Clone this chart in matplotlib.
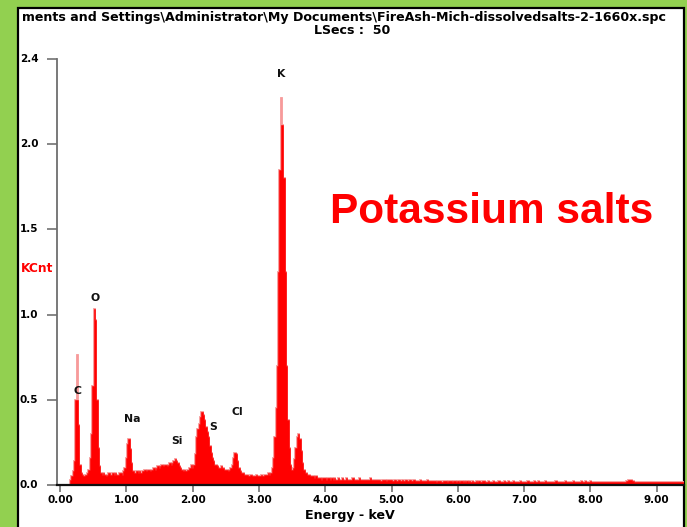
import matplotlib
matplotlib.use("Agg")
import matplotlib.pyplot as plt
import numpy as np
from matplotlib.patches import Rectangle
from matplotlib.transforms import blended_transform_factory

# EDS spectrum: counts (KCnt) per 20 eV channel, channel 0 centred at 0.00 keV
CHANNEL_START = 0.0
CHANNEL_WIDTH = 0.02
counts = [
    0, 0, 0, 0, 0, 0, 0, 0, 0.03, 0.05,                                 # 0.00
    0.08, 0.14, 0.50, 0.76, 0.35, 0.12, 0.07, 0.06, 0.05, 0.06,          # 0.20
    0.06, 0.07, 0.09, 0.16, 0.30, 0.58, 1.03, 0.97, 0.50, 0.22,          # 0.40
    0.11, 0.07, 0.06, 0.07, 0.06, 0.05, 0.06, 0.07, 0.06, 0.06,          # 0.60
    0.07, 0.06, 0.07, 0.06, 0.06, 0.07, 0.07, 0.06, 0.08, 0.10,          # 0.80
    0.16, 0.24, 0.27, 0.21, 0.13, 0.08, 0.07, 0.07, 0.08, 0.07,          # 1.00
    0.08, 0.07, 0.08, 0.08, 0.09, 0.08, 0.09, 0.09, 0.08, 0.09,          # 1.20
    0.09, 0.10, 0.09, 0.10, 0.11, 0.10, 0.11, 0.12, 0.11, 0.12,          # 1.40
    0.12, 0.11, 0.12, 0.13, 0.12, 0.13, 0.14, 0.15, 0.14, 0.13,          # 1.60
    0.11, 0.10, 0.09, 0.08, 0.09, 0.08, 0.09, 0.09, 0.10, 0.12,          # 1.80
    0.10, 0.12, 0.18, 0.28, 0.33, 0.36, 0.40, 0.43, 0.41, 0.38,          # 2.00
    0.34, 0.31, 0.28, 0.23, 0.19, 0.16, 0.14, 0.12, 0.12, 0.11,          # 2.20
    0.10, 0.10, 0.11, 0.10, 0.09, 0.09, 0.09, 0.08, 0.09, 0.10,          # 2.40
    0.12, 0.16, 0.19, 0.18, 0.14, 0.10, 0.08, 0.07, 0.07, 0.06,          # 2.60
    0.06, 0.06, 0.05, 0.05, 0.06, 0.05, 0.05, 0.05, 0.06, 0.05,          # 2.80
    0.05, 0.05, 0.06, 0.05, 0.06, 0.06, 0.06, 0.07, 0.06, 0.07,          # 3.00
    0.10, 0.16, 0.28, 0.45, 0.70, 1.25, 1.85, 2.27, 2.11, 1.80,          # 3.20
    1.25, 0.70, 0.38, 0.22, 0.12, 0.09, 0.10, 0.15, 0.22, 0.28,          # 3.40
    0.30, 0.27, 0.20, 0.13, 0.09, 0.07, 0.07, 0.06, 0.06, 0.05,          # 3.60
    0.05, 0.05, 0.04, 0.05, 0.04, 0.04, 0.04, 0.03, 0.04, 0.04,          # 3.80
    0.04, 0.03, 0.04, 0.04, 0.03, 0.04, 0.03, 0.04, 0.03, 0.03,          # 4.00
    0.04, 0.03, 0.03, 0.04, 0.03, 0.03, 0.04, 0.03, 0.03, 0.03,          # 4.20
    0.03, 0.04, 0.03, 0.03, 0.03, 0.03, 0.04, 0.03, 0.03, 0.03,          # 4.40
    0.03, 0.03, 0.03, 0.03, 0.04, 0.03, 0.03, 0.03, 0.03, 0.03,          # 4.60
    0.03, 0.03, 0.025, 0.03, 0.03, 0.03, 0.025, 0.03, 0.03, 0.03,        # 4.80
    0.03, 0.025, 0.03, 0.03, 0.025, 0.03, 0.03, 0.025, 0.03, 0.025,      # 5.00
    0.025, 0.03, 0.025, 0.025, 0.03, 0.025, 0.025, 0.03, 0.025, 0.025,   # 5.20
    0.025, 0.025, 0.03, 0.025, 0.025, 0.025, 0.025, 0.03, 0.025, 0.025,  # 5.40
    0.025, 0.025, 0.025, 0.025, 0.02, 0.025, 0.025, 0.025, 0.02, 0.025,  # 5.60
    0.025, 0.025, 0.02, 0.025, 0.025, 0.025, 0.02, 0.025, 0.025, 0.02,   # 5.80
    0.025, 0.02, 0.025, 0.025, 0.02, 0.025, 0.02, 0.025, 0.02, 0.025,    # 6.00
    0.02, 0.025, 0.02, 0.02, 0.025, 0.02, 0.025, 0.02, 0.02, 0.025,      # 6.20
    0.025, 0.02, 0.02, 0.025, 0.02, 0.02, 0.02, 0.025, 0.02, 0.02,       # 6.40
    0.02, 0.025, 0.02, 0.02, 0.02, 0.025, 0.02, 0.02, 0.025, 0.02,       # 6.60
    0.02, 0.02, 0.025, 0.02, 0.02, 0.02, 0.02, 0.025, 0.02, 0.02,        # 6.80
    0.02, 0.02, 0.02, 0.025, 0.02, 0.02, 0.02, 0.02, 0.025, 0.02,        # 7.00
    0.02, 0.025, 0.02, 0.02, 0.02, 0.02, 0.025, 0.02, 0.02, 0.02,        # 7.20
    0.02, 0.02, 0.02, 0.02, 0.025, 0.02, 0.02, 0.02, 0.02, 0.02,         # 7.40
    0.02, 0.025, 0.02, 0.02, 0.02, 0.02, 0.02, 0.025, 0.02, 0.02,        # 7.60
    0.02, 0.02, 0.02, 0.025, 0.02, 0.02, 0.025, 0.02, 0.02, 0.02,        # 7.80
    0.025, 0.02, 0.02, 0.02, 0.02, 0.015, 0.02, 0.02, 0.02, 0.015,       # 8.00
    0.02, 0.015, 0.02, 0.02, 0.015, 0.02, 0.02, 0.015, 0.02, 0.02,       # 8.20
    0.02, 0.02, 0.015, 0.02, 0.02, 0.02, 0.02, 0.025, 0.025, 0.03,       # 8.40
    0.03, 0.03, 0.025, 0.02, 0.02, 0.015, 0.02, 0.02, 0.015, 0.02,       # 8.60
    0.02, 0.015, 0.02, 0.02, 0.015, 0.02, 0.015, 0.02, 0.02, 0.015,      # 8.80
    0.02, 0.015, 0.02, 0.02, 0.015, 0.02, 0.02, 0.015, 0.02, 0.02,       # 9.00
    0.015, 0.02, 0.02, 0.015, 0.02, 0.02, 0.015, 0.02, 0.02, 0.015,      # 9.20
    0.02, 0.015,                                                         # 9.40
]

elements = ["C", "O", "Na", "Si", "S", "Cl", "K"]

x_ticks = [0, 1, 2, 3, 4, 5, 6, 7, 8, 9]
x_tick_labels = ["0.00", "1.00", "2.00", "3.00", "4.00", "5.00",
                 "6.00", "7.00", "8.00", "9.00"]
y_ticks = [0.0, 0.5, 1.0, 1.5, 2.0, 2.5]
y_tick_labels = ["0.0", "0.5", "1.0", "1.5", "2.0", "2.4"]

file_line = r"ments and Settings\Administrator\My Documents\FireAsh-Mich-dissolvedsalts-2-1660x.spc"
lsecs_line = "LSecs :  50"

# ---------------------------------------------------------------- drawing
W, H = 687, 527
fig = plt.figure(figsize=(W / 100, H / 100), dpi=100)
fig.patch.set_facecolor("#92D050")

# white framed panel
fig.add_artist(Rectangle((18 / W, -0.05), (684 - 18) / W, 1.05 - 8 / H,
                         transform=fig.transFigure, facecolor="white",
                         edgecolor="black", linewidth=1.6, zorder=0))

ax = fig.add_axes([57 / W, 42 / H, (684 - 57) / W, 426 / H])
ax.set_facecolor("none")

counts_arr = np.asarray(counts, dtype=float)
edges = CHANNEL_START - CHANNEL_WIDTH / 2 + CHANNEL_WIDTH * np.arange(len(counts_arr) + 1)

# single-channel spikes: the tip above both neighbours is drawn lighter
left_n = np.concatenate([[0.0], counts_arr[:-1]])
right_n = np.concatenate([counts_arr[1:], [0.0]])
shoulder = np.maximum(left_n, right_n)
body = np.where(counts_arr - shoulder > 0.1, shoulder, counts_arr)

ax.stairs(counts_arr, edges, fill=True, facecolor="#F79A9A",
          edgecolor="#F79A9A", linewidth=1.3, zorder=2)
ax.stairs(body, edges, fill=True, facecolor="#FF0000",
          edgecolor="#FF0000", linewidth=0.4, zorder=3)

ax.set_xlim(-0.045, 9.41)
ax.set_ylim(0, 2.5)

for side in ("top", "right"):
    ax.spines[side].set_visible(False)
ax.spines["left"].set_color("#6E6E6E")
ax.spines["left"].set_linewidth(1.3)
ax.spines["bottom"].set_color("#111111")
ax.spines["bottom"].set_linewidth(1.6)
ax.spines["bottom"].set_zorder(4)

ax.set_xticks(x_ticks)
ax.set_xticklabels(x_tick_labels, fontsize=7.5, fontweight="bold",
                   family="DejaVu Sans")
ax.tick_params(axis="x", direction="out", length=5, width=1.1,
               color="#666666", pad=2)

ax.set_yticks(y_ticks)
ax.set_yticklabels([])
ax.tick_params(axis="y", direction="out", length=7, width=1.1, color="#666666")
ytrans = blended_transform_factory(fig.transFigure, ax.transData)
for yv, lab in zip(y_ticks, y_tick_labels):
    ax.text(20 / W, yv, lab, transform=ytrans, ha="left", va="center",
            fontsize=7.5, fontweight="bold", family="DejaVu Sans")

# element labels above their peaks
label_xy = {"C": (0.26, 0.55), "O": (0.53, 1.10), "Na": (1.09, 0.39),
            "Si": (1.76, 0.26), "S": (2.31, 0.34), "Cl": (2.68, 0.43),
            "K": (3.33, 2.41)}
for el in elements:
    ex, ey = label_xy[el]
    ax.text(ex, ey, el, ha="center", va="center", fontsize=7.8,
            fontweight="bold", family="DejaVu Sans", color="#111111", zorder=5)

fig.text(22 / W, 1 - 17 / H, file_line, ha="left", va="center",
         fontsize=9.1, fontweight="bold", family="DejaVu Sans")
fig.text(352 / W, 1 - 30 / H, lsecs_line, ha="center", va="center",
         fontsize=9.1, fontweight="bold", family="DejaVu Sans")
fig.text(37 / W, 1 - 268 / H, "KCnt", ha="center", va="center",
         fontsize=8.8, fontweight="bold", family="DejaVu Sans", color="#FF0000")
fig.text(350 / W, 1 - 516 / H, "Energy - keV", ha="center", va="center",
         fontsize=9.1, fontweight="bold", family="DejaVu Sans")
fig.text(492 / W, 1 - 212 / H, "Potassium salts", ha="center", va="center",
         fontsize=30.5, fontweight="bold", family="Liberation Sans", color="#FF0000")

fig.savefig("out.png", dpi=100, facecolor=fig.get_facecolor())
